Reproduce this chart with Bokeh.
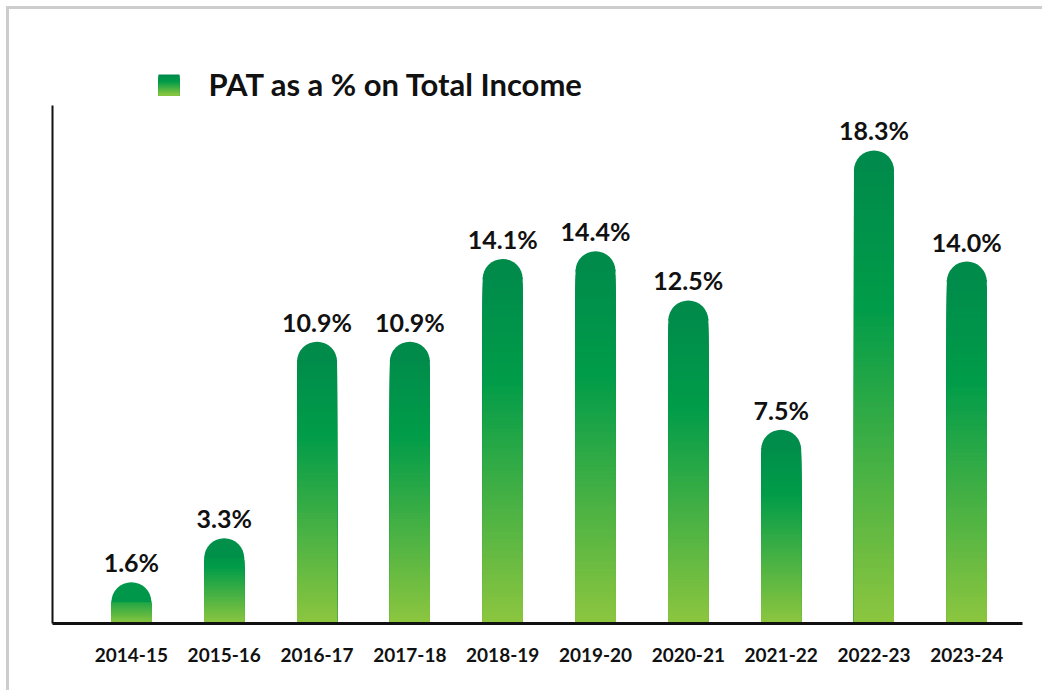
import numpy as np
from bokeh.plotting import figure
from bokeh.models import Range1d, FixedTicker
from bokeh.core.properties import value
from bokeh.embed import file_html
from bokeh.resources import INLINE

# ---- data ----
years = ["2014-15", "2015-16", "2016-17", "2017-18", "2018-19",
         "2019-20", "2020-21", "2021-22", "2022-23", "2023-24"]
pat_pct = [1.6, 3.3, 10.9, 10.9, 14.1, 14.4, 12.5, 7.5, 18.3, 14.0]
series_name = "PAT as a % on Total Income"

# ---- layout constants ----
W, H = 1036, 684
BL, BR, BT, BB = 43, 23, 53, 70
FW, FH = W - BL - BR, H - BT - BB
AXIS_TOP = 20.04          # where the drawn y-axis line ends (value units)
PX_PER_UNIT = 25.85
Y_MAX = FH / PX_PER_UNIT
X_START, X_END = -0.85, 9.6
px_y = FH / Y_MAX
px_x = FW / (X_END - X_START)
BAR_PX = 40
bar_w = BAR_PX / px_x
cap_r = BAR_PX / 2
cap_ry = cap_r / px_y

FONT = "Lato"
stops = [(0.0, (0, 137, 75)), (0.33, (0, 156, 73)), (1.0, (141, 198, 63))]


def grad(t):
    t = min(max(t, 0.0), 1.0)
    for (t0, c0), (t1, c1) in zip(stops[:-1], stops[1:]):
        if t <= t1:
            f = (t - t0) / (t1 - t0)
            c = [round(a + (b - a) * f) for a, b in zip(c0, c1)]
            return "#%02x%02x%02x" % tuple(c)
    return "#%02x%02x%02x" % stops[-1][1]


# frame-pixel helpers (offsets from frame's left / bottom edge)
def fx(px):
    return X_START + px / px_x


def fy(px):
    return px / px_y


p = figure(width=W, height=H,
           x_range=Range1d(X_START, X_END), y_range=Range1d(0, Y_MAX),
           output_backend="svg", toolbar_location=None,
           min_border_left=BL, min_border_right=BR,
           min_border_top=BT, min_border_bottom=BB)
p.styles = {"border-top": "3px solid #cdcdcd", "border-left": "3px solid #cdcdcd",
            "margin-top": "6px", "margin-left": "6px"}
p.outline_line_color = None
p.xgrid.visible = False
p.ygrid.visible = False
p.background_fill_color = "white"
p.border_fill_color = "white"

# gradient bars built from stacked slices (tallest first)
N = 90
xs, tops, cols = [], [], []
for k in range(N):
    for i, v in enumerate(pat_pct):
        rect_top = v - cap_ry
        top = rect_top * (1 - k / N)
        ymid = rect_top * (1 - (k + 0.5) / N)
        xs.append(i)
        tops.append(top + (fy(1.5) if k == 0 else 0))
        cols.append(grad(1 - ymid / v))
p.vbar(x=xs, top=tops, bottom=0, width=bar_w, fill_color=cols, line_color=None)

# rounded caps
idx = list(range(len(pat_pct)))
cap_y = [v - cap_ry for v in pat_pct]
cap_cols = [grad(0.5 * cap_ry / v) for v in pat_pct]
p.wedge(x=idx, y=cap_y, radius=cap_r, radius_units="screen",
        start_angle=0, end_angle=np.pi, fill_color=cap_cols, line_color=None)

# value labels
p.text(x=idx, y=pat_pct, text=[f"{v:.1f}%" for v in pat_pct],
       text_align="center", text_baseline="alphabetic", y_offset=-20,
       text_font=value(FONT), text_font_style="bold", text_font_size="25px",
       text_color="#111111")

# legend: gradient swatch + label (placed in frame pixels)
SW = 21
sw_left, sw_bottom = 106, 528
sx, st, sc = [], [], []
for j in range(SW):
    sx.append(fx(sw_left + SW / 2))
    st.append(fy(sw_bottom + SW - j))
    sc.append(grad(j / (SW - 1)))
p.vbar(x=sx, top=st, bottom=fy(sw_bottom), width=SW / px_x,
       fill_color=sc, line_color=None)
p.text(x=[fx(156)], y=[fy(540)], text=[series_name],
       text_align="left", text_baseline="alphabetic",
       text_font=value(FONT), text_font_style="bold", text_font_size="31px",
       text_color="#111111")

# axes
xa = p.xaxis[0]
xa.ticker = FixedTicker(ticks=idx)
xa.major_label_overrides = {i: y for i, y in enumerate(years)}
xa.major_label_text_font = FONT
xa.major_label_text_font_style = "bold"
xa.major_label_text_font_size = "19px"
xa.major_label_text_color = "#111111"
xa.major_label_standoff = 18
xa.major_tick_line_color = None
xa.minor_tick_line_color = None
xa.axis_line_width = 3
xa.axis_line_color = "#111111"

ya = p.yaxis[0]
ya.ticker = FixedTicker(ticks=[])
ya.bounds = (0, AXIS_TOP)
ya.major_tick_line_color = None
ya.minor_tick_line_color = None
ya.major_label_text_font_size = "0px"
ya.axis_line_width = 2
ya.axis_line_color = "#111111"

open("out.html", "w").write(file_html(p, INLINE))
